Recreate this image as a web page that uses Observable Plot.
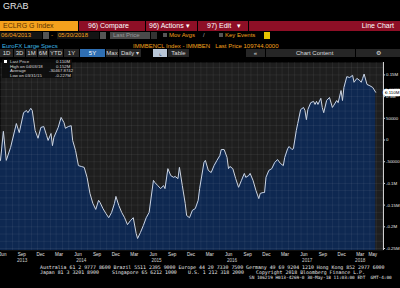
<!DOCTYPE html>
<html><head><meta charset="utf-8">
<script src="https://cdn.jsdelivr.net/npm/d3@7"></script>
<script src="https://cdn.jsdelivr.net/npm/@observablehq/plot@0.6"></script>
<style>
html,body{margin:0;padding:0;background:#000;width:400px;height:288px;overflow:hidden;font-family:"Liberation Sans",Arial,sans-serif;}
.a{position:absolute;white-space:nowrap;line-height:1;}
.btn{position:absolute;background:#262626;color:#ddd;font-size:6px;height:8px;line-height:8px;text-align:center;}
.ft{position:absolute;white-space:pre;font-family:"DejaVu Sans Mono",monospace;font-size:4.9px;color:#e8e8e8;line-height:1;}
#chart{position:absolute;left:0;top:58px;}
.lg{position:absolute;font-size:4.3px;color:#ddd;line-height:1;white-space:nowrap;}
</style></head>
<body>
<div class="a" style="left:3px;top:2px;font-size:9px;color:#e6e6e6;">GRAB</div>

<div class="a" style="left:0;top:21px;width:78px;height:10px;background:#f4a11d;color:#5a3300;font-size:7px;line-height:10px;padding-left:3px;box-sizing:border-box;">ECLRG G Index</div>
<div class="a" style="left:79px;top:21px;width:66px;height:10px;background:#8e0f26;color:#fff;font-size:7px;line-height:10px;padding-left:9px;box-sizing:border-box;">96) Compare</div>
<div class="a" style="left:146px;top:21px;width:51px;height:10px;background:#8e0f26;color:#fff;font-size:7px;line-height:10px;padding-left:3px;box-sizing:border-box;">96) Actions ▾</div>
<div class="a" style="left:198px;top:21px;width:50px;height:10px;background:#8e0f26;color:#fff;font-size:7px;line-height:10px;padding-left:9px;box-sizing:border-box;">97) Edit &nbsp;&nbsp;▾</div>
<div class="a" style="left:249px;top:21px;width:151px;height:10px;background:#8e0f26;color:#fff;font-size:7px;line-height:10px;text-align:right;padding-right:6px;box-sizing:border-box;">Line Chart</div>

<div class="a" style="left:0;top:32px;width:41px;height:7px;background:#141414;color:#f4a11d;font-size:6px;line-height:7px;padding-left:1px;">06/04/2013</div>
<div class="a" style="left:43px;top:32px;width:6px;height:7px;background:#555;"></div>
<div class="a" style="left:51px;top:32px;color:#f4a11d;font-size:6px;line-height:7px;">-</div>
<div class="a" style="left:57px;top:32px;width:41px;height:7px;background:#141414;color:#f4a11d;font-size:6px;line-height:7px;padding-left:1px;">05/30/2018</div>
<div class="a" style="left:100px;top:32px;width:6px;height:7px;background:#555;"></div>
<div class="a" style="left:110px;top:32px;width:40px;height:7px;background:#4a4a4a;color:#9a9a9a;font-size:6px;line-height:7px;padding-left:3px;box-sizing:border-box;">Last Price</div>
<div class="a" style="left:151px;top:32px;width:6px;height:7px;background:#333;"></div>
<div class="a" style="left:163px;top:33px;width:4px;height:4px;background:#555;"></div>
<div class="a" style="left:169px;top:32px;color:#f4a11d;font-size:6px;line-height:7px;">Mov Avgs</div>
<div class="a" style="left:203px;top:32px;color:#aaa;font-size:6px;line-height:7px;">/</div>
<div class="a" style="left:219px;top:33px;width:4px;height:4px;background:#555;"></div>
<div class="a" style="left:225px;top:32px;color:#f4a11d;font-size:6px;line-height:7px;">Key Events</div>
<div class="a" style="left:264px;top:32px;width:6px;height:7px;background:#e6c200;"></div>

<div class="a" style="left:2px;top:43px;color:#3db7e4;font-size:6px;">EuroFX Large Specs</div>
<div class="a" style="left:133px;top:43px;color:#f4a11d;font-size:6px;">IMMBENCL Index - IMMBEN &nbsp;&nbsp;Last Price 109744.0000</div>

<div class="btn" style="left:0;top:49px;width:13px;">1D</div>
<div class="btn" style="left:14px;top:49px;width:11px;">3D</div>
<div class="btn" style="left:26px;top:49px;width:11px;">1M</div>
<div class="btn" style="left:38px;top:49px;width:10px;">6M</div>
<div class="btn" style="left:49px;top:49px;width:14px;">YTD</div>
<div class="btn" style="left:64px;top:49px;width:15px;">1Y</div>
<div class="btn" style="left:80px;top:49px;width:25px;background:#2f6fb3;color:#fff;">5Y</div>
<div class="btn" style="left:106px;top:49px;width:12px;">Max</div>
<div class="btn" style="left:119px;top:49px;width:22px;">Daily ▾</div>
<div class="btn" style="left:153px;top:49px;width:14px;background:#b9c6d6;color:#223;">⌞</div>
<div class="btn" style="left:168px;top:49px;width:21px;">Table</div>
<div class="btn" style="left:246px;top:49px;width:19px;">«</div>
<div class="btn" style="left:266px;top:49px;width:89px;">&nbsp;&nbsp;&nbsp;&nbsp;&nbsp;Chart Content</div>
<div class="btn" style="left:356px;top:49px;width:44px;">⚙</div>

<div id="chart"></div>

<div class="a" style="left:2px;top:59px;width:70px;height:19px;background:rgba(12,12,12,0.85);"></div>
<div class="a" style="left:4px;top:60px;width:3px;height:3px;background:#fff;"></div>
<div class="lg" style="left:10px;top:60px;">Last Price</div><div class="lg" style="left:56px;top:60px;">0.110M</div>
<div class="lg" style="left:10px;top:64.5px;">High on 04/03/18</div><div class="lg" style="left:56px;top:64.5px;">0.152M</div>
<div class="lg" style="left:10px;top:69px;">Average</div><div class="lg" style="left:49px;top:69px;">-30467.8742</div>
<div class="lg" style="left:10px;top:73.5px;">Low on 03/31/15</div><div class="lg" style="left:55px;top:73.5px;">-0.227M</div>

<div class="ft" style="left:40px;top:264.5px;">Australia 61 2 9777 8600 Brazil 5511 2395 9000 Europe 44 20 7330 7500 Germany 49 69 9204 1210 Hong Kong 852 2977 6000</div>
<div class="ft" style="left:40px;top:270px;">Japan 81 3 3201 8900</div>
<div class="ft" style="left:112px;top:270px;">Singapore 65 6212 1000</div>
<div class="ft" style="left:188px;top:270px;">U.S. 1 212 318 2000</div>
<div class="ft" style="left:256px;top:270px;">Copyright 2018 Bloomberg Finance L.P.</div>
<div class="ft" style="left:249px;top:275.5px;font-size:4.4px;">SN 106219 H013-4269-0 30-May-18 11:03:00 EDT  GMT-4:00</div>

<script>
const dates = ["2013-06-04","2013-06-18","2013-07-02","2013-07-23","2013-08-20","2013-09-03","2013-09-24","2013-10-08","2013-10-15","2013-10-29","2013-11-05","2013-11-19","2013-12-03","2013-12-17","2013-12-31","2014-01-14","2014-01-21","2014-02-04","2014-02-11","2014-02-18","2014-03-11","2014-03-25","2014-04-08","2014-04-15","2014-04-29","2014-05-13","2014-05-20","2014-06-03","2014-06-17","2014-07-01","2014-07-15","2014-07-29","2014-08-12","2014-08-26","2014-09-09","2014-09-23","2014-09-30","2014-10-14","2014-10-28","2014-11-11","2014-11-25","2014-12-09","2014-12-16","2014-12-30","2015-01-13","2015-01-27","2015-02-10","2015-02-24","2015-03-10","2015-03-24","2015-03-31","2015-04-14","2015-04-28","2015-05-12","2015-05-26","2015-06-16","2015-06-23","2015-07-07","2015-07-21","2015-08-04","2015-08-11","2015-08-25","2015-09-08","2015-09-22","2015-09-29","2015-10-13","2015-10-20","2015-11-03","2015-11-17","2015-11-24","2015-12-08","2015-12-22","2016-01-05","2016-01-19","2016-01-26","2016-02-16","2016-02-23","2016-03-08","2016-03-22","2016-04-05","2016-04-19","2016-05-03","2016-05-10","2016-05-24","2016-06-07","2016-06-14","2016-06-21","2016-07-05","2016-07-19","2016-08-02","2016-08-16","2016-08-30","2016-09-06","2016-09-20","2016-09-27","2016-10-11","2016-10-25","2016-11-08","2016-11-15","2016-11-29","2016-12-06","2016-12-13","2016-12-27","2017-01-10","2017-01-24","2017-02-07","2017-02-21","2017-03-07","2017-03-14","2017-03-28","2017-04-04","2017-04-18","2017-04-25","2017-05-09","2017-05-16","2017-05-30","2017-06-13","2017-06-20","2017-06-27","2017-07-04","2017-07-18","2017-08-01","2017-08-08","2017-08-15","2017-08-22","2017-09-05","2017-09-12","2017-09-19","2017-10-03","2017-10-17","2017-10-31","2017-11-07","2017-11-21","2017-11-28","2017-12-12","2017-12-19","2017-12-26","2018-01-09","2018-01-23","2018-02-06","2018-02-13","2018-02-27","2018-03-13","2018-03-20","2018-03-27","2018-04-03","2018-04-17","2018-05-01","2018-05-15","2018-05-29"];
const values = [-47000,20000,-47000,-17000,38000,17000,63000,68000,63000,73000,68000,22000,4000,29000,31000,10000,-1000,15000,-13000,6000,29000,52000,40000,27000,31000,33000,-1000,-24000,-59000,-61000,-63000,-86000,-123000,-146000,-160000,-139000,-144000,-158000,-169000,-179000,-167000,-146000,-130000,-151000,-167000,-179000,-195000,-186000,-179000,-215000,-227000,-213000,-197000,-179000,-167000,-93000,-98000,-105000,-112000,-105000,-112000,-66000,-82000,-86000,-84000,-89000,-63000,-105000,-146000,-174000,-179000,-162000,-158000,-139000,-112000,-52000,-47000,-70000,-75000,-59000,-47000,-36000,-22000,-22000,-40000,-66000,-61000,-66000,-89000,-109000,-93000,-77000,-86000,-82000,-77000,-93000,-116000,-135000,-123000,-121000,-121000,-86000,-70000,-66000,-52000,-45000,-54000,-59000,-40000,-20000,-15000,-22000,-20000,22000,38000,70000,75000,68000,47000,70000,86000,89000,82000,89000,82000,96000,75000,63000,91000,98000,75000,80000,91000,86000,114000,91000,121000,146000,144000,149000,133000,142000,137000,133000,142000,152000,128000,125000,121000,110000];
const lastPriceLabel = "0.110M";
const yTicks = [150000,100000,50000,0,-50000,-100000,-150000,-200000,-250000];
const yTickLabels = ["0.15M","0.1M","50000","0","-50000","-0.1M","-0.15M","-0.2M","-0.25M"];
const monthLabelDates = ["2013-06-15","2013-09-15","2013-12-15","2014-03-15","2014-06-15","2014-09-15","2014-12-15","2015-03-15","2015-06-15","2015-09-15","2015-12-15","2016-03-15","2016-06-15","2016-09-15","2016-12-15","2017-03-15","2017-06-15","2017-09-15","2017-12-15","2018-03-15","2018-05-15"];
const yearLabelDates = ["2013-09-17","2014-07-01","2015-07-01","2016-07-01","2017-07-01","2018-03-15"];
const yearLabels = ["2013","2014","2015","2016","2017","2018"];
const xStart = "2013-06-04", xEnd = "2018-07-06", xTickEnd = "2018-07-16";
const yMin = -254600, yMax = 178600;

const P = d3.utcParse("%Y-%m-%d");
const data = dates.map((d, i) => ({date: P(d), v: values[i]}));
const monthStarts = d3.utcMonth.range(P("2013-07-01"), P(xEnd));
const yGrid = d3.range(-250000, 175000, 50000/3);
const mName = d3.utcFormat("%b");
const labelMap = new Map(yTicks.map((t, i) => [t, yTickLabels[i]]));
const yearMap = new Map(yearLabelDates.map((d, i) => [+P(d), yearLabels[i]]));
const last = data[data.length - 1];

const svg = Plot.plot({
  width: 400, height: 206,
  marginTop: 4, marginBottom: 14, marginLeft: 0, marginRight: 17,
  style: {background: "#000", fontFamily: "Liberation Sans, Arial, sans-serif", overflow: "visible"},
  x: {type: "utc", domain: [P(xStart), P(xEnd)], axis: null},
  y: {domain: [yMin, yMax], axis: null},
  marks: [
    Plot.frame({fill: "#1e1e1e"}),
    Plot.areaY(data, {x: "date", y1: yMin, y2: "v", fill: "#0e2851"}),
    Plot.ruleX(monthStarts, {stroke: "#ffffff", strokeOpacity: 0.06}),
    Plot.ruleY(yGrid, {stroke: "#ffffff", strokeOpacity: 0.06}),
    Plot.lineY(data, {x: "date", y: "v", stroke: "#cdd5e2", strokeWidth: 1}),
    Plot.ruleX([P(xEnd)], {stroke: "#cfcfcf"}),
    Plot.ruleY(yTicks, {x1: P(xEnd), x2: P(xTickEnd), stroke: "#cfcfcf", clip: false}),
    Plot.text(yTicks, {y: d => d, text: d => labelMap.get(d), frameAnchor: "right", dx: 2.5, textAnchor: "start", fill: "#e6e6e6", fontSize: 4.4}),
    Plot.text([last], {y: "v", frameAnchor: "right", dx: 1.5, text: () => lastPriceLabel, textAnchor: "start", fill: "#000", stroke: "#fff", strokeWidth: 4.5, fontSize: 4.4, paintOrder: "stroke"}),
    Plot.text(monthLabelDates.map(P), {x: d => d, text: d => mName(d), frameAnchor: "bottom", dy: 5.5, fill: "#e0e0e0", fontSize: 4.6}),
    Plot.text(yearLabelDates.map(P), {x: d => d, text: d => yearMap.get(+d), frameAnchor: "bottom", dy: 11, fill: "#cfcfcf", fontSize: 4.6})
  ]
});
document.getElementById("chart").appendChild(svg);
</script>
</body></html>
